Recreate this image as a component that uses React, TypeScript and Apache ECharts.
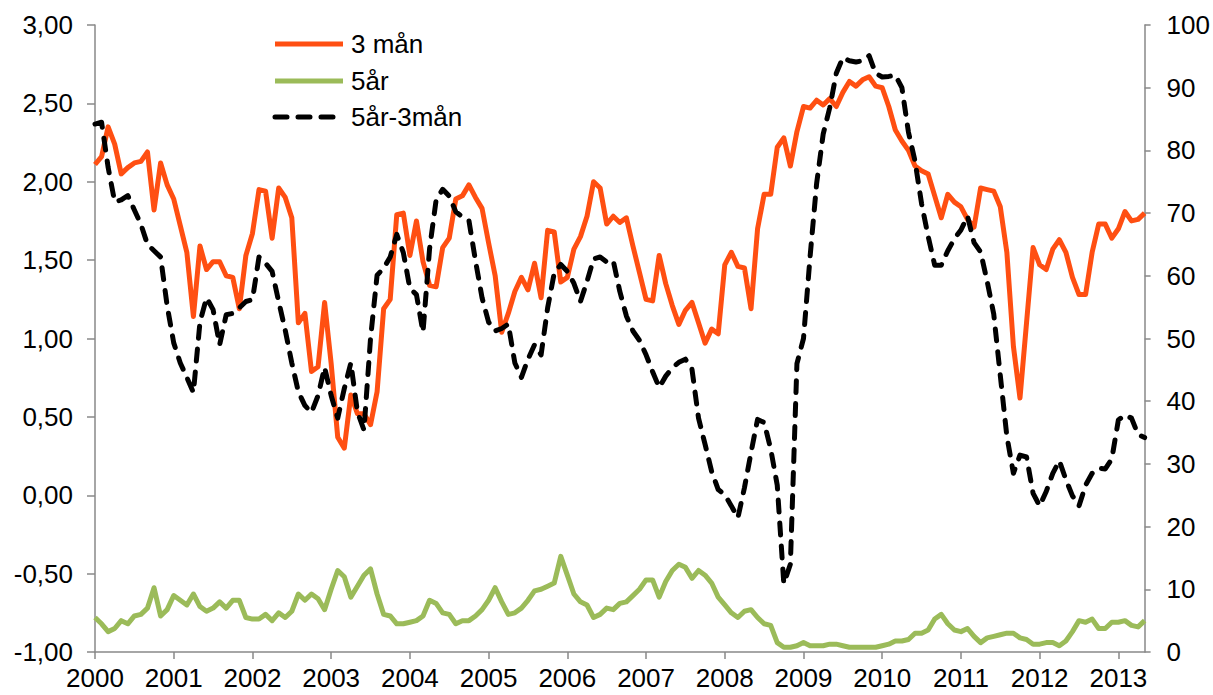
import React, { useEffect, useRef } from "react";
import * as echarts from "echarts";

// Monthly categories: Jan 2000 .. May 2013
const startYear = 2000;
const monthCount = 161;
const months: string[] = Array.from({ length: monthCount }, (_, i) => {
  const y = startYear + Math.floor(i / 12);
  const m = (i % 12) + 1;
  return `${y}-${m < 10 ? "0" + m : m}`;
});

const seriesNames = ["3 mån", "5år", "5år-3mån"];

// 3 mån (left axis)
const tre_man: number[] = [
  2.11, 2.16, 2.35, 2.24, 2.05, 2.09, 2.12, 2.13, 2.19, 1.82, 2.12, 1.98,
  1.89, 1.72, 1.55, 1.14, 1.59, 1.44, 1.49, 1.49, 1.40, 1.39, 1.19, 1.53,
  1.67, 1.95, 1.94, 1.64, 1.96, 1.90, 1.77, 1.10, 1.16, 0.79, 0.82, 1.23,
  0.84, 0.37, 0.30, 0.64, 0.52, 0.52, 0.45, 0.66, 1.19, 1.25, 1.79, 1.80,
  1.53, 1.75, 1.49, 1.34, 1.33, 1.58, 1.64, 1.89, 1.91, 1.98, 1.90, 1.83,
  1.61, 1.40, 1.04, 1.16, 1.30, 1.39, 1.31, 1.48, 1.26, 1.69, 1.68, 1.36,
  1.39, 1.57, 1.65, 1.78, 2.00, 1.96, 1.73, 1.78, 1.74, 1.77, 1.59, 1.42,
  1.25, 1.24, 1.53, 1.35, 1.21, 1.09, 1.18, 1.23, 1.10, 0.97, 1.06, 1.03,
  1.47, 1.55, 1.46, 1.45, 1.19, 1.70, 1.92, 1.92, 2.22, 2.28, 2.10, 2.32,
  2.48, 2.47, 2.52, 2.49, 2.53, 2.48, 2.57, 2.64, 2.61, 2.65, 2.67, 2.61,
  2.60, 2.48, 2.33, 2.26, 2.20, 2.10, 2.07, 2.05, 1.91, 1.77, 1.92, 1.87,
  1.84, 1.76, 1.71, 1.96, 1.95, 1.94, 1.84, 1.55, 0.95, 0.62, 1.10, 1.58,
  1.47, 1.44, 1.57, 1.63, 1.55, 1.39, 1.28, 1.28, 1.55, 1.73, 1.73, 1.64,
  1.70, 1.81, 1.75, 1.76, 1.80,
];

// 5år (left axis)
const fem_ar: number[] = [
  -0.78, -0.82, -0.87, -0.85, -0.80, -0.82, -0.77, -0.76, -0.72, -0.59, -0.77, -0.73,
  -0.64, -0.67, -0.70, -0.63, -0.71, -0.74, -0.72, -0.68, -0.72, -0.67, -0.67, -0.78,
  -0.79, -0.79, -0.76, -0.80, -0.75, -0.78, -0.74, -0.63, -0.67, -0.63, -0.66, -0.73,
  -0.60, -0.48, -0.52, -0.65, -0.58, -0.51, -0.47, -0.63, -0.76, -0.77, -0.82, -0.82,
  -0.81, -0.80, -0.77, -0.67, -0.69, -0.75, -0.76, -0.82, -0.80, -0.80, -0.77, -0.73,
  -0.67, -0.59, -0.68, -0.76, -0.75, -0.72, -0.67, -0.61, -0.60, -0.58, -0.56, -0.39,
  -0.51, -0.63, -0.68, -0.70, -0.78, -0.76, -0.72, -0.73, -0.69, -0.68, -0.64, -0.60,
  -0.54, -0.54, -0.65, -0.55, -0.48, -0.44, -0.46, -0.53, -0.48, -0.51, -0.56, -0.65,
  -0.70, -0.75, -0.78, -0.74, -0.73, -0.78, -0.82, -0.83, -0.94, -0.97, -0.97, -0.96,
  -0.94, -0.96, -0.96, -0.96, -0.95, -0.95, -0.96, -0.97, -0.97, -0.97, -0.97, -0.97,
  -0.96, -0.95, -0.93, -0.93, -0.92, -0.88, -0.88, -0.86, -0.79, -0.76, -0.82, -0.86,
  -0.87, -0.85, -0.90, -0.94, -0.91, -0.90, -0.89, -0.88, -0.88, -0.91, -0.92, -0.95,
  -0.95, -0.94, -0.94, -0.96, -0.93, -0.87, -0.80, -0.81, -0.79, -0.85, -0.85, -0.81,
  -0.81, -0.80, -0.83, -0.84, -0.80,
];

// 5år-3mån (right axis)
const spread: number[] = [
  84.2, 84.5, 77.3, 71.8, 72.1, 72.8, 70.5, 68.2, 65.0, 64.0, 63.0, 55.2,
  49.3, 46.1, 43.8, 41.4, 52.6, 56.5, 54.6, 49.0, 53.8, 54.0, 54.9, 55.9,
  56.2, 63.0, 62.0, 60.7, 55.9, 51.3, 46.1, 41.5, 39.3, 38.2, 40.9, 45.4,
  40.9, 37.3, 42.0, 46.1, 38.3, 35.4, 50.0, 60.1, 61.2, 63.0, 66.6, 63.7,
  58.0, 57.0, 51.0, 64.3, 72.1, 73.8, 72.7, 70.2, 69.4, 68.8, 62.4, 56.5,
  52.6, 51.2, 51.6, 52.3, 46.1, 43.8, 46.7, 49.0, 47.4, 54.9, 60.4, 61.8,
  60.7, 58.8, 55.9, 59.1, 62.7, 63.0, 62.2, 62.4, 57.5, 53.6, 51.2, 49.7,
  47.4, 44.7, 42.2, 44.0, 45.3, 46.2, 46.7, 45.1, 37.3, 33.1, 28.8, 25.9,
  25.1, 23.3, 21.4, 26.2, 31.8, 37.1, 36.6, 32.4, 26.6, 10.9, 14.0, 46.0,
  50.0, 63.0, 74.7, 82.6, 86.8, 92.3, 94.8, 94.3, 94.1, 94.3, 95.1, 92.3,
  91.7, 91.8, 92.0, 90.0, 82.9, 78.3, 71.5, 66.3, 61.7, 61.7, 64.0, 65.9,
  67.3, 69.5, 65.3, 63.8, 59.1, 53.9, 44.1, 34.4, 28.5, 31.4, 31.1, 25.3,
  23.3, 25.6, 28.5, 30.5, 27.5, 24.9, 23.3, 26.6, 28.5, 29.3, 29.2, 30.8,
  37.0, 37.8, 37.3, 34.7, 34.2,
];

const COLORS = ["#FF4F12", "#9BBB59", "#000000"];
const FONT = "'Liberation Sans', Arial, sans-serif";
const FS = 26;
const AXIS_COLOR = "#898989";
const DASH = [12, 11];

export default function App() {
  const ref = useRef<HTMLDivElement>(null);

  useEffect(() => {
    document.body.style.margin = "0";
    if (!ref.current) return;
    const chart = echarts.init(ref.current, null, { renderer: "svg" });

    const legendY = [44, 81, 117];
    const graphic: any[] = [];
    seriesNames.forEach((name, i) => {
      graphic.push({
        type: "line",
        shape: { x1: 275, y1: legendY[i], x2: 343, y2: legendY[i] },
        style: {
          stroke: COLORS[i],
          lineWidth: 5,
          lineDash: i === 2 ? DASH : null,
          lineCap: i === 2 ? "round" : "butt",
        },
      });
      graphic.push({
        type: "text",
        x: 351,
        y: legendY[i],
        style: {
          text: name,
          font: `${FS}px ${FONT}`,
          fill: "#000",
          verticalAlign: "middle",
          align: "left",
        },
      });
    });

    chart.setOption({
      animation: false,
      backgroundColor: "#fff",
      grid: { left: 95, right: 67, top: 25, bottom: 43, containLabel: false },
      textStyle: { fontFamily: FONT },
      xAxis: {
        type: "category",
        data: months,
        boundaryGap: false,
        axisLine: { onZero: false, lineStyle: { color: AXIS_COLOR, width: 1.5 } },
        axisTick: {
          interval: 11,
          length: 7,
          lineStyle: { color: AXIS_COLOR, width: 1.5 },
        },
        axisLabel: {
          interval: 11,
          margin: 16,
          lineHeight: 20,
          color: "#000",
          fontSize: FS,
          fontFamily: FONT,
          formatter: (v: string) => v.slice(0, 4),
        },
        splitLine: { show: false },
      },
      yAxis: [
        {
          type: "value",
          min: -1,
          max: 3,
          interval: 0.5,
          position: "left",
          axisLine: { show: true, lineStyle: { color: AXIS_COLOR, width: 1.5 } },
          axisTick: { show: true, length: 8, lineStyle: { color: AXIS_COLOR, width: 1.5 } },
          axisLabel: {
            margin: 22,
            color: "#000",
            fontSize: FS,
            fontFamily: FONT,
            formatter: (v: number) => v.toFixed(2).replace(".", ","),
          },
          splitLine: { show: false },
        },
        {
          type: "value",
          min: 0,
          max: 100,
          interval: 10,
          position: "right",
          axisLine: { show: true, lineStyle: { color: AXIS_COLOR, width: 1.5 } },
          axisTick: { show: true, length: 6, lineStyle: { color: AXIS_COLOR, width: 1.5 } },
          axisLabel: {
            margin: 22,
            color: "#000",
            fontSize: FS,
            fontFamily: FONT,
          },
          splitLine: { show: false },
        },
      ],
      series: [
        {
          name: seriesNames[0],
          type: "line",
          data: tre_man,
          yAxisIndex: 0,
          symbol: "none",
          lineStyle: { color: COLORS[0], width: 5, join: "round" },
          itemStyle: { color: COLORS[0] },
        },
        {
          name: seriesNames[1],
          type: "line",
          data: fem_ar,
          yAxisIndex: 0,
          symbol: "none",
          lineStyle: { color: COLORS[1], width: 5, join: "round" },
          itemStyle: { color: COLORS[1] },
        },
        {
          name: seriesNames[2],
          type: "line",
          data: spread,
          yAxisIndex: 1,
          symbol: "none",
          lineStyle: { color: COLORS[2], width: 5, join: "round", type: DASH, cap: "round" },
          itemStyle: { color: COLORS[2] },
        },
      ],
      graphic,
    });

    return () => chart.dispose();
  }, []);

  return <div ref={ref} style={{ width: 1213, height: 695 }} />;
}
